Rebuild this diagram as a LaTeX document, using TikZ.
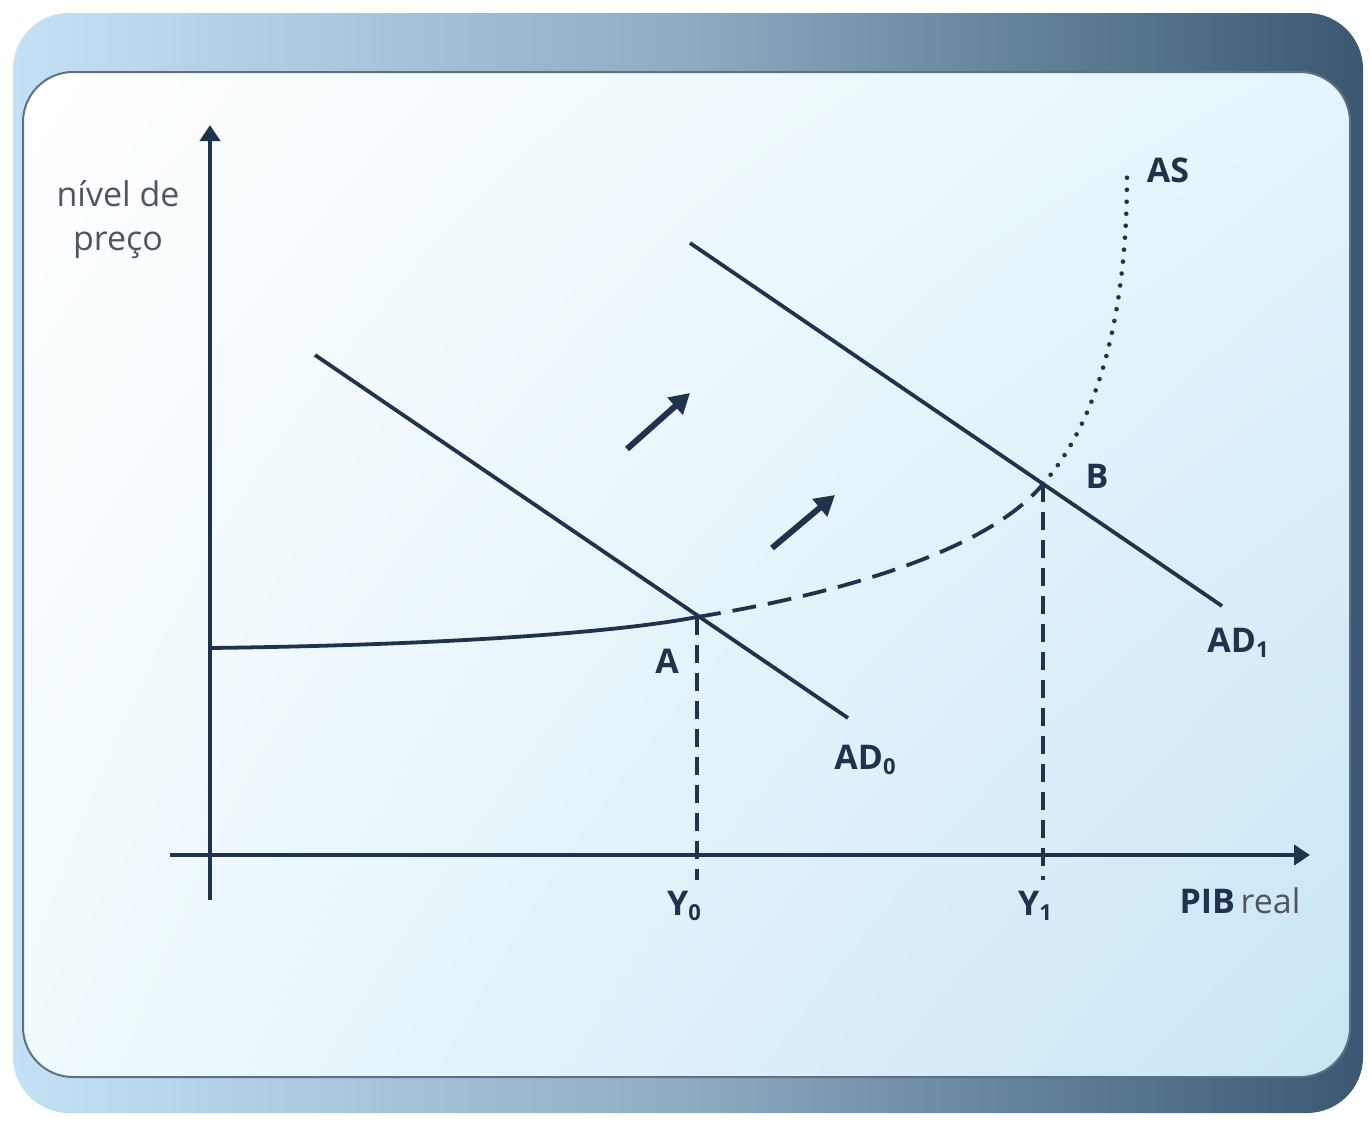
\documentclass[tikz,border=0pt]{standalone}
\usepackage{fontspec}
\setmainfont{Open Sans}
\usetikzlibrary{arrows.meta,shadings}
\definecolor{navy}{HTML}{1F344C}
\definecolor{txtgray}{HTML}{50565E}
\definecolor{frameL}{HTML}{C4E1F6}
\definecolor{frameM}{HTML}{8EABC2}
\definecolor{frameR}{HTML}{3B5772}
\definecolor{innerUR}{HTML}{E4F5FB}
\definecolor{innerLL}{HTML}{F0FAFD}
\definecolor{innerLR}{HTML}{C9E5F5}
\definecolor{edge}{HTML}{5D7186}
\newcommand{\lowidx}[1]{\raisebox{-0.3ex}{\fontsize{11}{11}\selectfont #1}}
\begin{document}
\begin{tikzpicture}[x=0.5pt,y=-0.5pt,
  curve/.style={draw=navy,line width=1.9pt},
  axisline/.style={draw=navy,line width=2pt,-{Triangle[length=8pt,width=10pt]}},
  guide/.style={draw=navy,line width=1.6pt,dash pattern=on 9pt off 5pt},
  asdash/.style={draw=navy,line width=1.9pt,dash pattern=on 12pt off 6pt},
  asdot/.style={draw=navy,line width=2.3pt,line cap=round,dash pattern=on 0pt off 6pt},
  shiftarrow/.style={draw=navy,line width=3pt,-{Triangle[length=10pt,width=11pt]}},
  lbl/.style={text=navy,font=\fontsize{17}{20}\selectfont\bfseries,inner sep=0pt},
  glbl/.style={text=txtgray,font=\fontsize{17}{22}\selectfont,inner sep=0pt,align=center}
]
\useasboundingbox (0,0) rectangle (1370,1124);
\fill[white] (0,0) rectangle (1370,1124);
% frame
\shade[left color=frameL,right color=frameR,middle color=frameM,rounded corners=28pt] (13,13) rectangle (1363,1113);
\shade[rounded corners=25pt,upper left=white,upper right=innerUR,lower left=innerLL,lower right=innerLR] (23,72) rectangle (1350,1077);
\draw[edge,line width=1pt,rounded corners=25pt] (23,72) rectangle (1350,1077);

% key points
\coordinate (yb) at (210,900);
\coordinate (yt) at (210,125);
\coordinate (xl) at (170,855);
\coordinate (xr) at (1310,855);
\coordinate (A) at (697,617);
\coordinate (B) at (1043,484);
\coordinate (ASs) at (210,648);
\coordinate (ASe) at (1127,175);
\coordinate (ad0s) at (315,355);
\coordinate (ad0e) at (848,718);
\coordinate (ad1s) at (690,243);
\coordinate (ad1e) at (1222,606);
\coordinate (y0b) at (697,880);
\coordinate (y1b) at (1043,880);
\coordinate (s1a) at (627,449);
\coordinate (s1b) at (690,393);
\coordinate (s2a) at (772,548);
\coordinate (s2b) at (835,495);

% axes
\draw[axisline] (yb) -- (yt);
\draw[axisline] (xl) -- (xr);

% guides
\draw[guide] (A) -- (y0b);
\draw[guide] (B) -- (y1b);

% AS curve
\draw[curve] (ASs) .. controls (450,645) and (620,632) .. (A);
\draw[asdash] (A) .. controls (850,592) and (990,548) .. (B);
\draw[asdot] (B) .. controls (1092,428) and (1127,330) .. (ASe);

% AD curves
\draw[curve] (ad0s) -- (ad0e);
\draw[curve] (ad1s) -- (ad1e);

% shift arrows
\draw[shiftarrow] (s1a) -- (s1b);
\draw[shiftarrow] (s2a) -- (s2b);

% labels
\node[glbl] (ylab) at (118,220) {nível de\\preço};
\node[lbl] (asl) at (1168,170) {AS};
\node[lbl] (bl) at (1097,476) {B};
\node[lbl] (al) at (667,661) {A};
\node[lbl] (ad0l) at (865,760) {AD\lowidx{0}};
\node[lbl] (ad1l) at (1238,643) {AD\lowidx{1}};
\node[lbl] (y0l) at (684,906) {Y\lowidx{0}};
\node[lbl] (y1l) at (1035,906) {Y\lowidx{1}};
\node[lbl] (pibl) at (1240,901) {PIB\,\textcolor{txtgray}{\mdseries real}};
\end{tikzpicture}
\end{document}
